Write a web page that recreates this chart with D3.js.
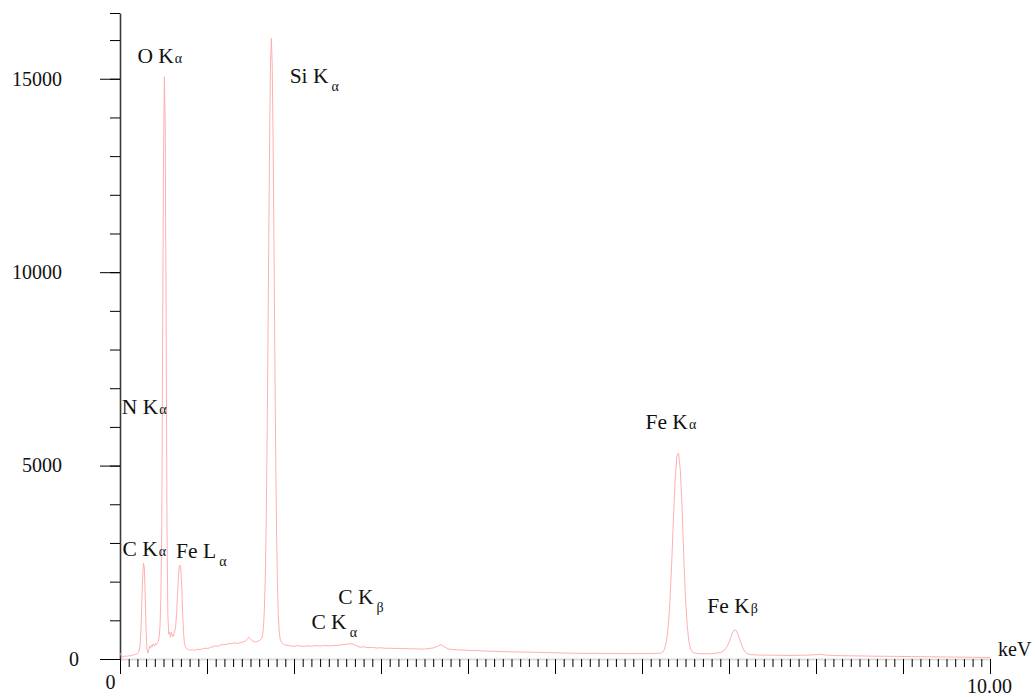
<!DOCTYPE html>
<html>
<head>
<meta charset="utf-8">
<script src="https://cdn.jsdelivr.net/npm/d3@7"></script>
<style>
  html, body { margin: 0; padding: 0; background: #fff; }
  svg text { font-family: "Liberation Serif", "Times New Roman", serif; fill: #111; }
</style>
</head>
<body>
<svg id="chart" width="1035" height="697" font-family="Liberation Serif, serif"></svg>
<script>
// EDS spectrum: energy (keV) and detector counts
const energy = [
  0.00, 0.01, 0.02, 0.04, 0.06, 0.08, 0.10, 0.12, 0.14, 0.16, 0.18, 0.20, 0.21, 0.22,
  0.23, 0.24, 0.25, 0.26, 0.27, 0.28, 0.29, 0.30, 0.31, 0.32, 0.33, 0.34, 0.35, 0.36,
  0.37, 0.38, 0.39, 0.40, 0.41, 0.42, 0.43, 0.44, 0.45, 0.46, 0.47, 0.48, 0.49, 0.50,
  0.51, 0.52, 0.53, 0.54, 0.55, 0.56, 0.57, 0.58, 0.59, 0.60, 0.61, 0.62, 0.63, 0.64,
  0.65, 0.66, 0.67, 0.68, 0.69, 0.70, 0.71, 0.72, 0.73, 0.74, 0.75, 0.76, 0.78, 0.80,
  0.83, 0.86, 0.89, 0.92, 0.95, 0.98, 1.01, 1.04, 1.07, 1.10, 1.13, 1.16, 1.19, 1.22,
  1.25, 1.28, 1.31, 1.34, 1.37, 1.40, 1.43, 1.46, 1.48, 1.50, 1.52, 1.54, 1.56, 1.58,
  1.60, 1.62, 1.63, 1.64, 1.65, 1.66, 1.67, 1.68, 1.69, 1.70, 1.71, 1.72, 1.73, 1.74,
  1.75, 1.76, 1.77, 1.78, 1.79, 1.80, 1.81, 1.82, 1.83, 1.84, 1.86, 1.88, 1.90, 1.95,
  2.00, 2.05, 2.10, 2.15, 2.20, 2.25, 2.30, 2.35, 2.40, 2.45, 2.50, 2.55, 2.60, 2.64,
  2.68, 2.72, 2.76, 2.80, 2.85, 2.90, 2.95, 3.00, 3.05, 3.10, 3.15, 3.20, 3.25, 3.30,
  3.35, 3.40, 3.45, 3.50, 3.55, 3.60, 3.65, 3.69, 3.72, 3.76, 3.80, 3.85, 3.90, 3.95,
  4.00, 4.05, 4.10, 4.15, 4.20, 4.30, 4.40, 4.50, 4.60, 4.70, 4.80, 4.90, 5.00, 5.10,
  5.20, 5.30, 5.40, 5.50, 5.60, 5.70, 5.80, 5.90, 6.00, 6.05, 6.10, 6.15, 6.20, 6.22,
  6.24, 6.26, 6.28, 6.30, 6.32, 6.34, 6.36, 6.38, 6.40, 6.42, 6.44, 6.46, 6.48, 6.50,
  6.52, 6.54, 6.56, 6.58, 6.60, 6.65, 6.70, 6.75, 6.80, 6.85, 6.90, 6.94, 6.98, 7.00,
  7.02, 7.04, 7.06, 7.08, 7.10, 7.12, 7.14, 7.16, 7.18, 7.20, 7.24, 7.30, 7.40, 7.50,
  7.60, 7.70, 7.80, 7.90, 8.00, 8.05, 8.10, 8.20, 8.30, 8.40, 8.50, 8.60, 8.70, 8.80,
  8.90, 9.00, 9.10, 9.20, 9.30, 9.40, 9.50, 9.60, 9.70, 9.80, 9.90, 10.00
];
const counts = [
  150, 110, 70, 60, 75, 70, 85, 80, 95, 110, 120, 140, 170, 230,
  330, 700, 1400, 2100, 2480, 2350, 1600, 750, 260, 150, 240, 330, 280, 360,
  320, 390, 350, 340, 400, 370, 420, 450, 560, 850, 1600, 3300, 8200, 12900,
  15050, 13700, 8900, 3500, 1150, 640, 700, 560, 690, 620, 580, 660, 720, 850,
  1150, 1600, 2050, 2380, 2430, 2300, 1850, 1200, 680, 420, 320, 280, 250, 230,
  240, 225, 250, 245, 265, 280, 270, 300, 320, 340, 330, 365, 380, 370,
  405, 395, 420, 400, 415, 430, 450, 500, 560, 520, 470, 455, 440, 460,
  470, 520, 540, 630, 850, 1310, 2120, 3470, 5440, 7980, 10830, 13490, 15410, 16040,
  15300, 13350, 10650, 7780, 5150, 3200, 1900, 1130, 720, 520, 420, 380, 360, 340,
  330, 345, 325, 340, 330, 345, 335, 350, 340, 345, 355, 365, 380, 395,
  385, 340, 305, 315, 295, 300, 285, 290, 275, 280, 270, 275, 265, 270,
  260, 265, 255, 260, 270, 285, 330, 370, 330, 270, 250, 240, 235, 230,
  225, 215, 220, 210, 205, 200, 190, 185, 180, 178, 172, 165, 160, 155,
  150, 148, 145, 147, 142, 145, 140, 143, 140, 145, 142, 145, 150, 155,
  180, 260, 450, 800, 1450, 2400, 3550, 4600, 5250, 5320, 4900, 3950, 2650, 1550,
  850, 430, 250, 180, 155, 140, 135, 135, 140, 150, 165, 210, 330, 430,
  560, 680, 750, 745, 660, 530, 400, 280, 200, 150, 115, 105, 100, 98,
  95, 92, 95, 100, 112, 118, 105, 90, 85, 82, 80, 75, 72, 70,
  68, 65, 62, 60, 58, 55, 52, 50, 48, 45, 42, 40
];

// axis ticks
const yMax = 16700;
const yMajorTicks = [0, 5000, 10000, 15000];
const yMinorTicks = [0, 1000, 2000, 3000, 4000, 5000, 6000, 7000, 8000, 9000, 10000,
                     11000, 12000, 13000, 14000, 15000, 16000, 16700];
const yTickLabels = ["0", "5000", "10000", "15000"];
const xMajorTicks = [0, 1, 2, 3, 4, 5, 6, 7, 8, 9, 10];
const xTickLabels = { 0: "0", 10: "10.00" };
const xUnit = "keV";

// element lines, anchored at (keV, counts)
const peakNames = ["O K", "Si K", "N K", "C K", "Fe L", "C K", "C K", "Fe K", "Fe K"];
const peakSubs  = ["α", "α", "α", "α", "α", "β", "α", "α", "β"];
const peakSubLowered = [false, true, false, false, true, true, true, false, false];
const peakAnchorKeV = [0.20, 1.95, 0.02, 0.03, 0.645, 2.51, 2.20, 6.04, 6.75];
const peakAnchorCounts = [15400, 14900, 6330, 2660, 2620, 1420, 770, 5950, 1200];

const serif = "Liberation Serif, Times New Roman, serif";
const svg = d3.select("#chart");
const x = d3.scaleLinear().domain([0, 10]).range([120, 990]);
const y = d3.scaleLinear().domain([0, yMax]).range([659, 13]);

// x axis: light baseline, minor and major ticks
const xMinorTicks = d3.range(0, 101).map(i => i / 10);
svg.append("g")
  .attr("transform", `translate(0,${y(0)})`)
  .call(d3.axisBottom(x).tickValues(xMinorTicks).tickSize(8).tickSizeOuter(0).tickFormat(""))
  .call(g => g.select(".domain").attr("stroke", "#dcdcdc").attr("stroke-width", 2.2))
  .call(g => g.selectAll(".tick line").attr("stroke", "#000").attr("stroke-width", 1));

const xMajor = svg.append("g")
  .attr("transform", `translate(0,${y(0)})`)
  .call(d3.axisBottom(x).tickValues(xMajorTicks).tickSize(15).tickSizeOuter(0).tickPadding(8)
    .tickFormat(d => xTickLabels[d] || ""))
  .attr("font-family", serif);
xMajor.select(".domain").remove();
xMajor.selectAll(".tick line").attr("stroke", "#000").attr("stroke-width", 1);
xMajor.selectAll(".tick text")
  .attr("font-size", 20)
  .attr("fill", "#111")
  .attr("dx", d => d === 0 ? -10 : -1)
  .attr("dy", d => d === 0 ? 7 : 11);

svg.append("text")
  .attr("x", x(10) + 8).attr("y", y(0) - 3)
  .attr("font-size", 20)
  .text(xUnit);

// y axis: minor and major ticks
svg.append("g")
  .attr("transform", `translate(${x(0)},0)`)
  .call(d3.axisLeft(y).tickValues(yMinorTicks).tickSize(10).tickSizeOuter(0).tickFormat(""))
  .call(g => g.select(".domain").attr("stroke", "#3a3a3a").attr("stroke-width", 1.6))
  .call(g => g.selectAll(".tick line").attr("stroke", "#000").attr("stroke-width", 1));

const yMajor = svg.append("g")
  .attr("transform", `translate(${x(0)},0)`)
  .call(d3.axisLeft(y).tickValues(yMajorTicks).tickSize(20).tickSizeOuter(0).tickPadding(38)
    .tickFormat((d, i) => yTickLabels[i]))
  .attr("font-family", serif);
yMajor.select(".domain").remove();
yMajor.selectAll(".tick line").attr("stroke", "#000").attr("stroke-width", 1);
yMajor.selectAll(".tick text")
  .attr("font-size", 20)
  .attr("fill", "#111")
  .attr("dx", d => d === 0 ? 17 : 0);

// spectrum trace
const pts = energy.map((e, i) => [e, counts[i]]);
svg.append("path")
  .datum(pts)
  .attr("fill", "none")
  .attr("stroke", "#ffb0b0")
  .attr("stroke-width", 1)
  .attr("stroke-linejoin", "round")
  .attr("d", d3.line().x(d => x(d[0])).y(d => y(d[1])));

// peak labels
peakNames.forEach((name, i) => {
  const t = svg.append("text")
    .attr("x", x(peakAnchorKeV[i]))
    .attr("y", y(peakAnchorCounts[i]))
    .attr("font-size", 21.5);
  t.append("tspan").text(name);
  if (peakSubLowered[i]) {
    t.append("tspan").attr("font-size", 14).attr("dx", 3).attr("dy", 8).text(peakSubs[i]);
  } else {
    t.append("tspan").attr("font-size", 14).attr("dx", 1).text(peakSubs[i]);
  }
});
</script>
</body>
</html>
